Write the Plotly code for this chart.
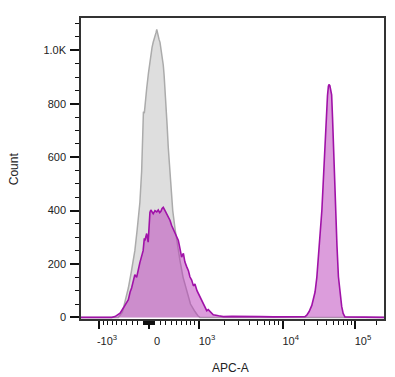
import numpy as np
import plotly.graph_objects as go

# ---------------- data (display channel 0..1024, counts) ----------------
GRAY_CH = [0, 126, 140, 150, 160, 170, 182, 190, 199, 205, 208, 211, 214, 218, 222, 228, 235,
           240, 244, 248, 251, 254, 256, 258, 261, 264, 267, 272, 275, 278, 281, 284, 287, 291,
           295, 299, 303, 310, 318, 326, 335, 345, 357, 370, 385, 395, 402, 1024]
GRAY_COUNT = [0, 0, 20, 60, 110, 170, 250, 330, 430, 548, 630, 770, 765, 820, 857, 915, 980,
              1010, 1030, 1042, 1058, 1068, 1078, 1066, 1050, 1040, 1030, 995, 965, 945, 905, 860, 800, 720,
              635, 560, 486, 400, 330, 265, 210, 150, 100, 50, 22, 6, 0, 0]

MAG_CH = [0, 104, 115, 132, 143, 154, 160, 166, 171, 182, 188, 199, 210, 214, 216, 222, 227, 233,
          236, 244, 250, 256, 261, 266, 270, 274, 278, 284, 290, 295, 301, 306, 312, 318, 323, 329,
          335, 340, 346, 351, 357, 363, 368, 374, 380, 385, 392, 400, 410, 425, 430, 447, 465, 481,
          510, 537, 570, 605, 650, 706, 740, 757, 763, 771, 780, 786, 791, 797, 802, 808, 814, 818,
          822, 826, 830, 833, 836, 838, 841, 844, 847, 850, 853, 857, 861, 865, 870, 875, 881, 886,
          892, 1024]
MAG_COUNT = [0, 0, 3, 16, 35, 53, 66, 95, 110, 160, 150, 205, 250, 296, 288, 314, 282, 393,
             402, 388, 400, 395, 402, 392, 397, 408, 412, 400, 388, 375, 363, 345, 330, 312, 301, 288,
             255, 226, 240, 208, 190, 175, 152, 140, 118, 125, 100, 82, 55, 25, 29, 10, 6, 3,
             4, 3, 2, 3, 2, 3, 5, 3, 8, 22, 45, 70, 95, 150, 214, 300, 400, 490,
             585, 700, 771, 830, 865, 872, 868, 850, 833, 750, 647, 520, 400, 270, 152, 90, 41, 15,
             2, 0]

X_MAJOR_VALUES = [-1000, 0, 1000, 10000, 100000]
X_MAJOR_TEXT = ["-10<sup>3</sup>", "0", "10<sup>3</sup>", "10<sup>4</sup>", "10<sup>5</sup>"]
Y_MAJOR_VALUES = [0, 200, 400, 600, 800, 1000]
Y_MAJOR_TEXT = ["0", "200", "400", "600", "800", "1.0K"]

# ---------------- biexponential display scale (value -> channel) ----------------
ZERO_CH = 229.8
LIN_GAIN = 191.6
DEC_LOG = [3.0, 4.0, 5.0]
DEC_CH = [168.9, 451.8, 696.2]
TOP_SLOPE = 244.3


def biex(v):
    a = abs(v)
    s = 1 if v >= 0 else -1
    if a <= 1000:
        off = LIN_GAIN * np.arcsinh(a / 1000.0)
    else:
        lg = np.log10(a)
        if lg <= 5:
            off = np.interp(lg, DEC_LOG, DEC_CH)
        else:
            off = DEC_CH[-1] + (lg - 5) * TOP_SLOPE
    return ZERO_CH + s * off


minor_vals = []
for k in range(1, 10):
    minor_vals += [k * 10, -k * 10, k * 100, -k * 100]
for k in range(2, 10):
    minor_vals += [k * 1000, k * 10000]
minor_vals += [200000]
x_minor = [biex(v) for v in minor_vals]
x_major = [biex(v) for v in X_MAJOR_VALUES]
y_minor = [v for v in range(50, 1101, 50) if v % 200 != 0]

FONT = "Liberation Sans, Arial, sans-serif"

fig = go.Figure()
fig.add_trace(go.Scatter(
    x=GRAY_CH, y=GRAY_COUNT, mode="lines", fill="tozeroy",
    line=dict(color="#ababab", width=1.5), fillcolor="#dedede", hoverinfo="skip"))
fig.add_trace(go.Scatter(
    x=MAG_CH, y=MAG_COUNT, mode="lines", fill="tozeroy",
    line=dict(color="#a012a8", width=1.6), fillcolor="rgba(185,60,185,0.5)", hoverinfo="skip"))

fig.update_layout(
    width=387, height=369,
    margin=dict(l=73, r=11, t=8, b=58),
    paper_bgcolor="white", plot_bgcolor="white",
    showlegend=False,
    font=dict(family=FONT, size=11, color="#222"),
    xaxis=dict(
        range=[0, 1024], showgrid=False, zeroline=False,
        showline=True, linecolor="#333", linewidth=1.5, mirror=True,
        tickmode="array", tickvals=x_major, ticktext=X_MAJOR_TEXT,
        ticks="outside", ticklen=8, tickwidth=2, tickcolor="#111",
        tickfont=dict(family=FONT, size=11, color="#222"),
        ticklabelshift=8, ticklabelstandoff=3,
        minor=dict(tickmode="array", tickvals=x_minor, ticks="outside",
                   ticklen=4, tickwidth=1, tickcolor="#111", showgrid=False),
    ),
    yaxis=dict(
        range=[-6, 1121], showgrid=False, zeroline=False,
        showline=True, linecolor="#333", linewidth=1.5, mirror=True,
        tickmode="array", tickvals=Y_MAJOR_VALUES, ticktext=Y_MAJOR_TEXT,
        ticks="outside", ticklen=9, tickwidth=2, tickcolor="#111",
        tickfont=dict(family=FONT, size=11, color="#222"),
        ticklabelstandoff=2,
        minor=dict(tickmode="array", tickvals=y_minor, ticks="outside",
                   ticklen=4, tickwidth=1, tickcolor="#111", showgrid=False),
    ),
    annotations=[
        dict(text="Count", xref="paper", yref="paper", x=-0.222, y=0.5,
             textangle=-90, showarrow=False, font=dict(family=FONT, size=12, color="#222"),
             xanchor="center", yanchor="middle"),
        dict(text="APC-A", xref="paper", yref="paper", x=0.495, y=-0.162,
             showarrow=False, font=dict(family=FONT, size=12, color="#222"),
             xanchor="center", yanchor="middle"),
    ],
)

fig.write_html("out.html")
